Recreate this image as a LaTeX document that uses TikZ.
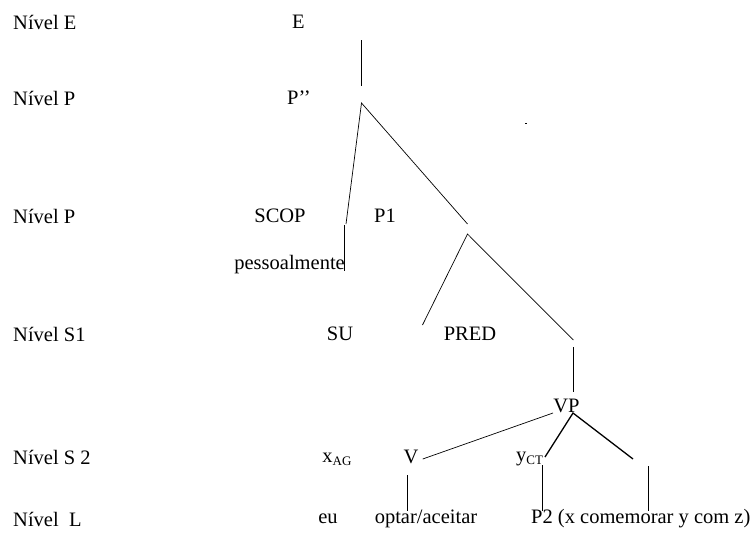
\documentclass[tikz,border=0pt]{standalone}
\usepackage{fontspec}
\setmainfont{Liberation Serif}
\tikzset{
  lbl/.style={inner sep=0pt, font=\fontsize{20.5}{24}\selectfont, anchor=center},
  lvl/.style={lbl, anchor=west},
  br/.style={line width=0.7pt, black},
  brthick/.style={line width=1.3pt, black},
}
\newcommand{\subsc}[1]{\raisebox{-0.35ex}{\fontsize{13}{13}\selectfont #1}}
\begin{document}
\begin{tikzpicture}[x=1pt,y=-1pt]
\useasboundingbox[fill=white] (0,0) rectangle (754,539);
% level labels
\node[lvl] (lE) at (13,22) {Nível E};
\node[lvl] (lP1) at (13,98) {Nível P};
\node[lvl] (lP2) at (13,216) {Nível P};
\node[lvl] (lS1) at (13,334) {Nível S1};
\node[lvl] (lS2) at (13,457) {Nível S 2};
\node[lvl] (lL) at (13,519) {Nível\ \ L};
% tree labels
\node[lbl] (E) at (298.5,22) {E};
\node[lbl] (Ppp) at (299,98) {P’’};
\node[lbl] (SCOP) at (280,216) {SCOP};
\node[lbl] (P1) at (385,216) {P1};
\node[lbl, anchor=east] (pess) at (345,265) {pessoalmente};
\node[lbl] (SU) at (340,334) {SU};
\node[lbl] (PRED) at (470,334) {PRED};
\node[lbl] (VP) at (566.5,406) {VP};
\node[lbl] (xag) at (337,459) {x\subsc{AG}};
\node[lbl] (V) at (411,457) {V};
\node[lbl, anchor=west] (yct) at (516,459) {y\subsc{CT}};
\node[lbl] (eu) at (328,519) {eu};
\node[lbl] (opt) at (426,519) {optar/aceitar};
\node[lbl, anchor=west] (p2) at (531,519) {P2 (x comemorar y com z)};
% coordinates for branches
\coordinate (e1) at (361.5,40);
\coordinate (e2) at (361.5,86);
\coordinate (top) at (361.5,103);
\coordinate (tl) at (346,224);
\coordinate (tr) at (467.5,224);
\coordinate (s1) at (344.5,225);
\coordinate (s2) at (344.5,271);
\coordinate (m) at (467.5,234);
\coordinate (ml) at (422.5,325);
\coordinate (mr) at (573.3,340);
\coordinate (v1) at (573,347);
\coordinate (v2) at (573,392);
\coordinate (vpl) at (553,413);
\coordinate (vpr) at (573,413);
\coordinate (vl) at (422.7,459);
\coordinate (vy) at (545,457);
\coordinate (vr) at (633,459);
\coordinate (a1) at (407.3,475);
\coordinate (a2) at (407.3,511);
\coordinate (b1) at (542.7,465);
\coordinate (b2) at (542.7,511);
\coordinate (c1) at (648.5,466);
\coordinate (c2) at (648.5,511);
% branches
\draw[br] (e1) -- (e2);
\draw[br] (tl) -- (top) -- (tr);
\draw[br] (s1) -- (s2);
\draw[br] (ml) -- (m) -- (mr);
\draw[br] (v1) -- (v2);
\draw[br] (vl) -- (vpl);
\draw[brthick] (vy) -- (vpr) -- (vr);
\draw[br] (a1) -- (a2);
\draw[br] (b1) -- (b2);
\draw[br] (c1) -- (c2);
% stray dot
\fill[black] (524.5,122.5) rectangle (526.5,123.5);
\end{tikzpicture}
\end{document}
